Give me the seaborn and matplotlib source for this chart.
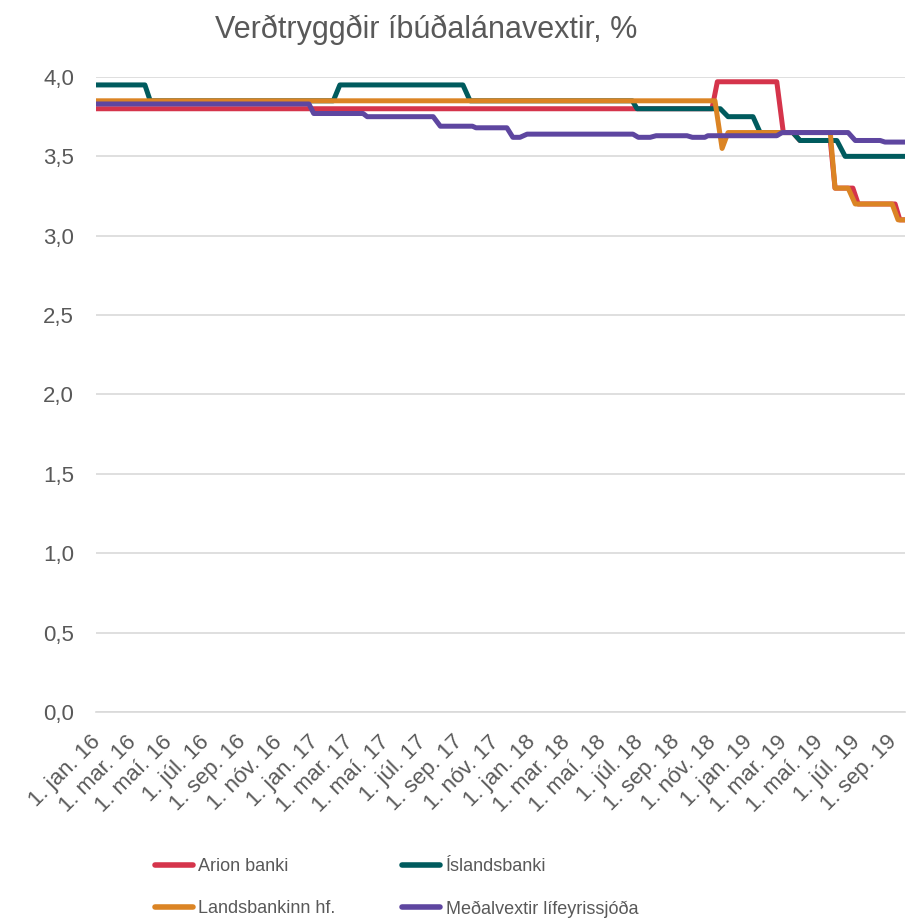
"""
Verðtryggðir íbúðalánavextir - recreate line chart
"""

import pandas as pd
import matplotlib.pyplot as plt
import matplotlib.dates as mdates
from matplotlib.ticker import FuncFormatter
from matplotlib.transforms import ScaledTranslation
import seaborn as sns

# Colors
RED = '#D5344B'
TEAL = '#005B5E'
ORANGE = '#DB8424'
PURPLE = '#5E46A0'
TEXT = '#595959'
GRID = '#D9D9D9'

# Data (breakpoints)
arion_dates = ['2016-01-01', '2018-11-02', '2018-11-11', '2019-02-19', '2019-03-02',
               '2019-03-18', '2019-03-30', '2019-05-20', '2019-05-28', '2019-06-27',
               '2019-07-06', '2019-09-06', '2019-09-14', '2019-09-23']
arion_vals = [3.80, 3.80, 3.97, 3.97, 3.65, 3.65, 3.60, 3.60, 3.30, 3.30,
              3.20, 3.20, 3.10, 3.10]

islands_dates = ['2016-01-01', '2016-03-23', '2016-04-01', '2017-02-03', '2017-02-14',
                 '2017-09-09', '2017-09-21', '2018-06-21', '2018-06-29', '2018-11-16',
                 '2018-11-29', '2019-01-10', '2019-01-22', '2019-03-18', '2019-03-30',
                 '2019-05-31', '2019-06-14', '2019-09-23']
islands_vals = [3.95, 3.95, 3.85, 3.85, 3.95, 3.95, 3.85, 3.85, 3.80, 3.80,
                3.75, 3.75, 3.65, 3.65, 3.60, 3.60, 3.50, 3.50]

lands_dates = ['2016-01-01', '2018-11-07', '2018-11-19', '2018-11-29', '2019-05-20',
               '2019-05-28', '2019-06-19', '2019-07-01', '2019-09-01', '2019-09-11',
               '2019-09-23']
lands_vals = [3.85, 3.85, 3.55, 3.65, 3.65, 3.30, 3.30, 3.20, 3.20, 3.10, 3.10]

lif_dates = ['2016-01-01', '2016-12-24', '2017-01-01', '2017-03-25', '2017-04-01',
             '2017-07-21', '2017-08-02', '2017-09-25', '2017-10-01', '2017-11-22',
             '2017-12-02', '2017-12-14', '2017-12-26', '2018-06-22', '2018-07-01',
             '2018-07-21', '2018-07-31', '2018-09-21', '2018-09-30', '2018-10-21',
             '2018-10-26', '2019-02-19', '2019-02-28', '2019-06-19', '2019-07-01',
             '2019-08-12', '2019-08-20', '2019-09-23']
lif_vals = [3.83, 3.83, 3.77, 3.77, 3.75, 3.75, 3.69, 3.69, 3.68, 3.68,
            3.62, 3.62, 3.64, 3.64, 3.62, 3.62, 3.63, 3.63, 3.62, 3.62,
            3.63, 3.63, 3.65, 3.65, 3.60, 3.60, 3.59, 3.59]

series_names = ['Arion banki', 'Íslandsbanki', 'Landsbankinn hf.', 'Meðalvextir lífeyrissjóða']
series_colors = [RED, TEAL, ORANGE, PURPLE]
month_names = {1: 'jan.', 3: 'mar.', 5: 'maí.', 7: 'júl.', 9: 'sep.', 11: 'nóv.'}

frames = []
for name, d, v in zip(series_names,
                      [arion_dates, islands_dates, lands_dates, lif_dates],
                      [arion_vals, islands_vals, lands_vals, lif_vals]):
    frames.append(pd.DataFrame({'date': pd.to_datetime(d), 'value': v, 'series': name}))
df = pd.concat(frames, ignore_index=True)

sns.set_style('white')
plt.rcParams['font.family'] = ['Liberation Sans', 'DejaVu Sans']

fig = plt.figure(figsize=(9.07, 9.21), dpi=100)
ax = fig.add_axes([0.106, 0.227, 0.892, 0.6894])

sns.lineplot(data=df, x='date', y='value', hue='series', hue_order=series_names,
             palette=series_colors, linewidth=3.6, sort=False,
             estimator=None, ax=ax, legend=False)

ax.set_ylim(0, 4.0)
ax.set_yticks([0, 0.5, 1.0, 1.5, 2.0, 2.5, 3.0, 3.5, 4.0])
ax.yaxis.set_major_formatter(FuncFormatter(lambda v, p: f'{v:.1f}'.replace('.', ',')))
ax.set_xlim(pd.Timestamp('2016-01-01'), pd.Timestamp('2019-09-23'))
ax.xaxis.set_major_locator(mdates.MonthLocator(bymonth=[1, 3, 5, 7, 9, 11]))
ax.xaxis.set_major_formatter(FuncFormatter(
    lambda v, p: f"1. {month_names[mdates.num2date(v).month]} {mdates.num2date(v).year % 100}"))

ax.grid(axis='y', color=GRID, linewidth=1.2)
ax.set_axisbelow(True)
for s in ['left', 'right', 'top']:
    ax.spines[s].set_visible(False)
ax.spines['bottom'].set_color(GRID)
ax.spines['bottom'].set_linewidth(1.2)
ax.tick_params(axis='x', length=6, color=GRID, width=1.2, labelsize=16, labelcolor=TEXT, pad=8)
ax.tick_params(axis='y', length=0, labelsize=16, labelcolor=TEXT, pad=16)
shift = ScaledTranslation(-0.06, 0, fig.dpi_scale_trans)
for lbl in ax.get_xticklabels():
    lbl.set_rotation(45)
    lbl.set_ha('right')
    lbl.set_va('top')
    lbl.set_rotation_mode('anchor')
    lbl.set_transform(lbl.get_transform() + shift)
ax.set_xlabel('')
ax.set_ylabel('')

fig.text(0.47, 0.968, 'Verðtryggðir íbúðalánavextir, %', ha='center', va='center',
         fontsize=22, color=TEXT)

# legend fills column-wise, so reorder to get Arion/Íslandsbanki on the first row
order = [0, 2, 1, 3]
handles = [plt.Line2D([], [], color=series_colors[i], linewidth=4, solid_capstyle='round')
           for i in order]
fig.legend(handles, [series_names[i] for i in order], loc='upper left',
           bbox_to_anchor=(0.161, 0.078), ncol=2, frameon=False, fontsize=13,
           labelcolor=TEXT, handlelength=2.1, handletextpad=0.3, columnspacing=3.7,
           labelspacing=1.4, borderpad=0)

plt.savefig('out.png', dpi=100)
plt.close()
